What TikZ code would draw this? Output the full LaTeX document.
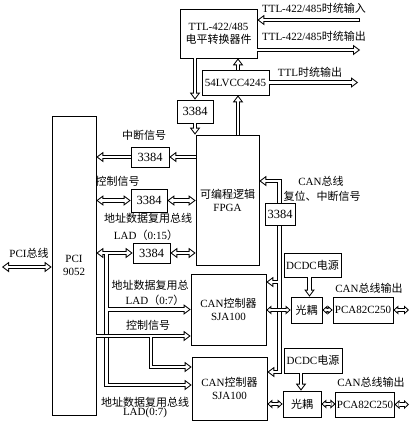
\documentclass[tikz,border=0pt]{standalone}
\usepackage{fontspec}
\setmainfont{Liberation Serif}
\newfontfamily\cjk{Noto Sans CJK SC}
\newcommand\zh[1]{{\cjk #1}}
\usetikzlibrary{arrows.meta}
\tikzset{
 passA/.style={hbus/.style={line width=4.2pt,draw=black},
   hE/.style={-{Triangle[length=7pt,width=10.5pt,line width=0pt]}},
   hB/.style={{Triangle[length=7pt,width=10.5pt,line width=0pt]}-{Triangle[length=7pt,width=10.5pt,line width=0pt]}},
   hBs/.style={{Triangle[length=5pt,width=9pt,line width=0pt]}-{Triangle[length=5pt,width=9pt,line width=0pt]}},
   fS/.style={}},
 passB/.style={hbus/.style={line width=2.2pt,draw=white},
   hE/.style={-{Triangle[length=4.33pt,width=6.5pt,line width=0pt]},shorten >=1.67pt},
   hB/.style={{Triangle[length=4.33pt,width=6.5pt,line width=0pt]}-{Triangle[length=4.33pt,width=6.5pt,line width=0pt]},shorten >=1.67pt,shorten <=1.67pt},
   hBs/.style={{Triangle[length=2.5pt,width=4.5pt,line width=0pt]}-{Triangle[length=2.5pt,width=4.5pt,line width=0pt]},shorten >=1.5pt,shorten <=1.5pt},
   fS/.style={shorten <=1pt}}
}
\newcommand\twopass[1]{\begin{scope}[passA]#1\end{scope}\begin{scope}[passB]#1\end{scope}}
\begin{document}
\begin{tikzpicture}[x=1pt,y=-1pt,
  box/.style={draw,line width=0.8pt,fill=white,inner sep=1pt,align=center,font=\fontsize{11}{13}\selectfont},
  num/.style={font=\fontsize{12.5}{14}\selectfont},
  lbl/.style={inner sep=0pt,font=\fontsize{11}{13}\selectfont}]
\useasboundingbox[fill=white] (0,0) rectangle (411,423);
% boxes
\node[box,minimum width=77pt,minimum height=49pt] (ttl) at (218.5,33.5) {TTL-422/485\\\zh{电平转换器件}};
\node[box,minimum width=67pt,minimum height=25pt] (lvc) at (235.5,82.5) {54LVCC4245};
\node[box,num,minimum width=36pt,minimum height=23pt] (b1) at (195,111.5) {3384};
\node[box,minimum width=63pt,minimum height=130pt] (fpga) at (227.5,200) {\zh{可编程逻辑}\\FPGA};
\node[box,minimum width=44pt,minimum height=299pt] (pci) at (74,265.5) {PCI\\9052};
\node[box,num,minimum width=38pt,minimum height=20pt] (b2) at (150,157) {3384};
\node[box,num,minimum width=36pt,minimum height=23pt] (b3) at (149,200.5) {3384};
\node[box,num,minimum width=37pt,minimum height=20pt] (b4) at (151.5,253) {3384};
\node[box,minimum width=75pt,minimum height=71pt] (can1) at (228.5,309.5) {CAN\zh{控制器}\\SJA100};
\node[box,minimum width=75pt,minimum height=63pt] (can2) at (229.5,388.5) {CAN\zh{控制器}\\SJA100};
\node[box,minimum width=57pt,minimum height=24pt] (dc1) at (312.5,265) {DCDC\zh{电源}};
\node[box,minimum width=31pt,minimum height=26pt] (gk1) at (306.5,310) {\zh{光耦}};
\node[box,minimum width=60pt,minimum height=26pt] (pca1) at (363,310) {PCA82C250};
\node[box,minimum width=58pt,minimum height=25pt] (dc2) at (313,360.5) {DCDC\zh{电源}};
\node[box,minimum width=38pt,minimum height=26pt] (gk2) at (302,404) {\zh{光耦}};
\node[box,minimum width=58pt,minimum height=25pt] (pca2) at (365,404.5) {PCA82C250};
% labels
\node[lbl] (l1) at (314,8) {TTL-422/485\zh{时统输入}};
\node[lbl] (l2) at (314,36) {TTL-422/485\zh{时统输出}};
\node[lbl] (l3) at (310,72) {TTL\zh{时统输出}};
\node[lbl] (l4) at (144,135) {\zh{中断信号}};
\node[lbl] (l5) at (117.5,181) {\zh{控制信号}};
\node[lbl] (l6) at (148,218) {\zh{地址数据复用总线}};
\node[lbl] (l7) at (146,235) {LAD\zh{（}0:15\zh{）}};
\node[lbl] (l8) at (150,285) {\zh{地址数据复用总}};
\node[lbl] (l9) at (155,300) {LAD\zh{（}0:7\zh{）}};
\node[lbl] (l10) at (148,325) {\zh{控制信号}};
\node[lbl] (l11) at (145,402) {\zh{地址数据复用总线}};
\node[lbl] (l12) at (145,413) {LAD(0:7)};
\node[lbl] (l13) at (321,181) {CAN\zh{总线}};
\node[lbl] (l14) at (322,196) {\zh{复位、中断信号}};
\node[lbl] (l15) at (369,288) {CAN\zh{总线输出}};
\node[lbl] (l16) at (371,382) {CAN\zh{总线输出}};
\node[lbl] (l17) at (29,253) {PCI\zh{总线}};
% coordinates
\coordinate (ttlin) at (360,20);
\coordinate (ttlout) at (360,50);
\coordinate (lvcout) at (358,82.5);
\coordinate (upx) at (238,64);
\coordinate (pcib) at (2,267);
\coordinate (ladx) at (106.5,253);
\coordinate (lad2) at (106.5,385);
\coordinate (ctl) at (151,336);
\coordinate (ctl2) at (151,367);
\coordinate (rbt) at (279.5,181);
\coordinate (rbm) at (279.5,282);
\coordinate (rbb) at (279.5,372);
\coordinate (pca1o) at (409,310);
\coordinate (pca2o) at (409,404.5);
\coordinate (dcx1) at (309.5,287);
\coordinate (dcx2) at (301,380);
% connectors
\twopass{
\draw[hbus,hE,fS] (ttlin) -- (ttl.east |- ttlin);
\draw[hbus,hE] (ttl.east |- ttlout) -- (ttlout);
\draw[hbus,hE] (lvc.east) -- (lvcout);
\draw[hbus,hE] (ttl.south -| b1) -- (b1.north);
\draw[hbus,hE] (b1.south) -- (fpga.north -| b1);
\draw[hbus,hE] (fpga.north -| upx) -- (lvc.south -| upx);
\draw[hbus,hE] (lvc.north -| upx) -- (ttl.south -| upx);
\draw[hbus,hE] (fpga.west |- b2) -- (b2.east);
\draw[hbus,hE] (b2.west) -- (pci.east |- b2);
\draw[hbus,hB] (pci.east |- b3) -- (b3.west);
\draw[hbus,hB] (b3.east) -- (fpga.west |- b3);
\draw[hbus,hB] (pci.east |- b4) -- (b4.west);
\draw[hbus,hB] (b4.east) -- (fpga.west |- b4);
\draw[hbus,hE] (ladx) -- (lad2) -- (can2.west |- lad2);
\draw[hbus,hE] (ladx |- can1.west) -- (can1.west);
\draw[hbus,hB] (pcib) -- (pci.west |- pcib);
}
\twopass{
\draw[hbus,hE] (pci.east |- ctl) -- (can1.west |- ctl);
\draw[hbus,hE] (ctl) -- (ctl2) -- (can2.west |- ctl2);
}
\twopass{
\draw[hbus,hB] (can2.east |- rbb) -- (rbb) -- (rbt) -- (fpga.east |- rbt);
\draw[hbus,hE] (rbm) -- (can1.east |- rbm);
\draw[hbus,hE] (dc1.south -| dcx1) -- (gk1.north -| dcx1);
\draw[hbus,hE] (dc2.south -| dcx2) -- (gk2.north -| dcx2);
\draw[hbus,hBs] (gk1.east) -- (pca1.west);
\draw[hbus,hBs] (pca1.east) -- (pca1o);
\draw[hbus,hBs] (can2.east |- gk2) -- (gk2.west);
\draw[hbus,hBs] (gk2.east) -- (pca2.west |- gk2);
\draw[hbus,hBs] (pca2.east) -- (pca2o);
}
\twopass{
\draw[hbus,hBs] (can1.east |- gk1) -- (gk1.west);
}
\node[box,num,minimum width=30pt,minimum height=22pt] (b5) at (280,214) {3384};
\end{tikzpicture}
\end{document}
